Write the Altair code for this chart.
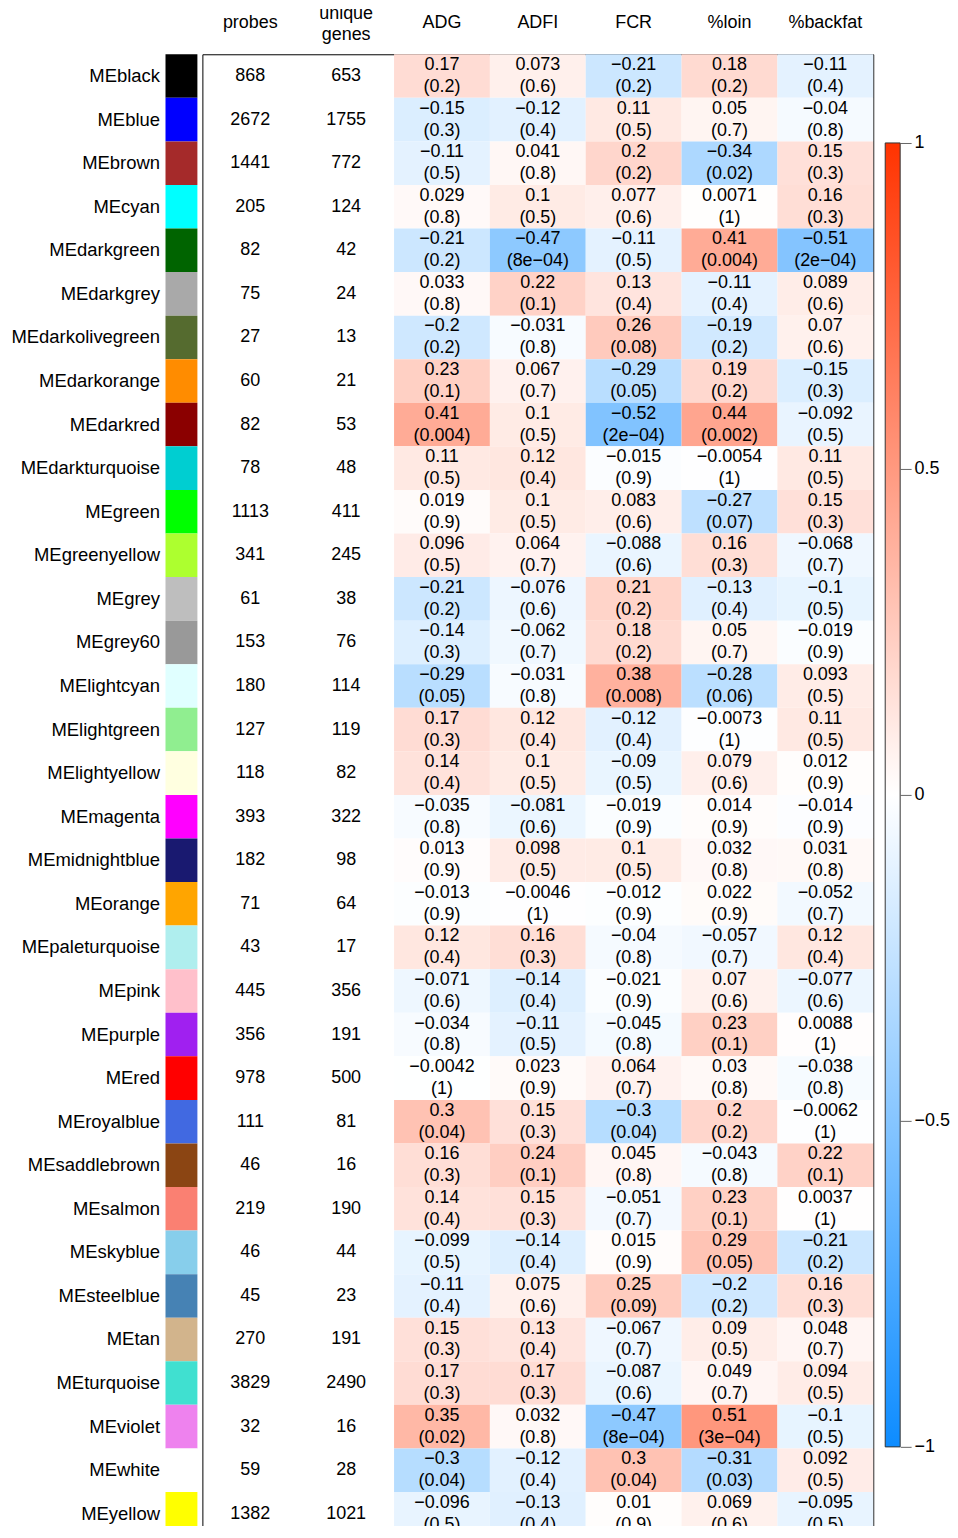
import altair as alt
import pandas as pd

modules = ["MEblack", "MEblue", "MEbrown", "MEcyan", "MEdarkgreen", "MEdarkgrey",
           "MEdarkolivegreen", "MEdarkorange", "MEdarkred", "MEdarkturquoise", "MEgreen",
           "MEgreenyellow", "MEgrey", "MEgrey60", "MElightcyan", "MElightgreen",
           "MElightyellow", "MEmagenta", "MEmidnightblue", "MEorange", "MEpaleturquoise",
           "MEpink", "MEpurple", "MEred", "MEroyalblue", "MEsaddlebrown", "MEsalmon",
           "MEskyblue", "MEsteelblue", "MEtan", "MEturquoise", "MEviolet", "MEwhite", "MEyellow"]

swatch_colors = ["#000000", "#0000FF", "#A52A2A", "#00FFFF", "#006400", "#A9A9A9",
                 "#556B2F", "#FF8C00", "#8B0000", "#00CED1", "#00FF00",
                 "#ADFF2F", "#BEBEBE", "#999999", "#E0FFFF", "#90EE90",
                 "#FFFFE0", "#FF00FF", "#191970", "#FFA500", "#AFEEEE",
                 "#FFC0CB", "#A020F0", "#FF0000", "#4169E1", "#8B4513", "#FA8072",
                 "#87CEEB", "#4682B4", "#D2B48C", "#40E0D0", "#EE82EE", "#FFFFFF", "#FFFF00"]

probes = [868, 2672, 1441, 205, 82, 75, 27, 60, 82, 78, 1113, 341, 61, 153, 180, 127,
          118, 393, 182, 71, 43, 445, 356, 978, 111, 46, 219, 46, 45, 270, 3829, 32, 59, 1382]
genes = [653, 1755, 772, 124, 42, 24, 13, 21, 53, 48, 411, 245, 38, 76, 114, 119,
         82, 322, 98, 64, 17, 356, 191, 500, 81, 16, 190, 44, 23, 191, 2490, 16, 28, 1021]

traits = ["ADG", "ADFI", "FCR", "%loin", "%backfat"]

adg_r = [0.17, -0.15, -0.11, 0.029, -0.21, 0.033, -0.2, 0.23, 0.41, 0.11, 0.019, 0.096,
         -0.21, -0.14, -0.29, 0.17, 0.14, -0.035, 0.013, -0.013, 0.12, -0.071, -0.034,
         -0.0042, 0.3, 0.16, 0.14, -0.099, -0.11, 0.15, 0.17, 0.35, -0.3, -0.096]
adg_p = ["0.2", "0.3", "0.5", "0.8", "0.2", "0.8", "0.2", "0.1", "0.004", "0.5", "0.9", "0.5",
         "0.2", "0.3", "0.05", "0.3", "0.4", "0.8", "0.9", "0.9", "0.4", "0.6", "0.8",
         "1", "0.04", "0.3", "0.4", "0.5", "0.4", "0.3", "0.3", "0.02", "0.04", "0.5"]

adfi_r = [0.073, -0.12, 0.041, 0.1, -0.47, 0.22, -0.031, 0.067, 0.1, 0.12, 0.1, 0.064,
          -0.076, -0.062, -0.031, 0.12, 0.1, -0.081, 0.098, -0.0046, 0.16, -0.14, -0.11,
          0.023, 0.15, 0.24, 0.15, -0.14, 0.075, 0.13, 0.17, 0.032, -0.12, -0.13]
adfi_p = ["0.6", "0.4", "0.8", "0.5", "8e-04", "0.1", "0.8", "0.7", "0.5", "0.4", "0.5", "0.7",
          "0.6", "0.7", "0.8", "0.4", "0.5", "0.6", "0.5", "1", "0.3", "0.4", "0.5",
          "0.9", "0.3", "0.1", "0.3", "0.4", "0.6", "0.4", "0.3", "0.8", "0.4", "0.4"]

fcr_r = [-0.21, 0.11, 0.2, 0.077, -0.11, 0.13, 0.26, -0.29, -0.52, -0.015, 0.083, -0.088,
         0.21, 0.18, 0.38, -0.12, -0.09, -0.019, 0.1, -0.012, -0.04, -0.021, -0.045,
         0.064, -0.3, 0.045, -0.051, 0.015, 0.25, -0.067, -0.087, -0.47, 0.3, 0.01]
fcr_p = ["0.2", "0.5", "0.2", "0.6", "0.5", "0.4", "0.08", "0.05", "2e-04", "0.9", "0.6", "0.6",
         "0.2", "0.2", "0.008", "0.4", "0.5", "0.9", "0.5", "0.9", "0.8", "0.9", "0.8",
         "0.7", "0.04", "0.8", "0.7", "0.9", "0.09", "0.7", "0.6", "8e-04", "0.04", "0.9"]

loin_r = [0.18, 0.05, -0.34, 0.0071, 0.41, -0.11, -0.19, 0.19, 0.44, -0.0054, -0.27, 0.16,
          -0.13, 0.05, -0.28, -0.0073, 0.079, 0.014, 0.032, 0.022, -0.057, 0.07, 0.23,
          0.03, 0.2, -0.043, 0.23, 0.29, -0.2, 0.09, 0.049, 0.51, -0.31, 0.069]
loin_p = ["0.2", "0.7", "0.02", "1", "0.004", "0.4", "0.2", "0.2", "0.002", "1", "0.07", "0.3",
          "0.4", "0.7", "0.06", "1", "0.6", "0.9", "0.8", "0.9", "0.7", "0.6", "0.1",
          "0.8", "0.2", "0.8", "0.1", "0.05", "0.2", "0.5", "0.7", "3e-04", "0.03", "0.6"]

backfat_r = [-0.11, -0.04, 0.15, 0.16, -0.51, 0.089, 0.07, -0.15, -0.092, 0.11, 0.15, -0.068,
             -0.1, -0.019, 0.093, 0.11, 0.012, -0.014, 0.031, -0.052, 0.12, -0.077, 0.0088,
             -0.038, -0.0062, 0.22, 0.0037, -0.21, 0.16, 0.048, 0.094, -0.1, 0.092, -0.095]
backfat_p = ["0.4", "0.8", "0.3", "0.3", "2e-04", "0.6", "0.6", "0.3", "0.5", "0.5", "0.3", "0.7",
             "0.5", "0.9", "0.5", "0.5", "0.9", "0.9", "0.8", "0.7", "0.4", "0.6", "1",
             "0.8", "1", "0.1", "1", "0.2", "0.3", "0.7", "0.5", "0.5", "0.5", "0.5"]

legend_ticks = [-1, -0.5, 0, 0.5, 1]

cols_order = ["probes", "unique genes"] + traits


def mstr(v):
    return str(v).replace("-", "\u2212")


trait_r = [adg_r, adfi_r, fcr_r, loin_r, backfat_r]
trait_p = [adg_p, adfi_p, fcr_p, loin_p, backfat_p]

cell_rows = []
count_rows = []
for i, m in enumerate(modules):
    count_rows.append({"module": m, "col": "probes", "label": str(probes[i])})
    count_rows.append({"module": m, "col": "unique genes", "label": str(genes[i])})
    for t, rr, pp in zip(traits, trait_r, trait_p):
        cell_rows.append({"module": m, "col": t, "r": rr[i],
                          "rlab": mstr(rr[i]), "plab": "(" + mstr(pp[i]) + ")"})

cells = pd.DataFrame(cell_rows)
counts = pd.DataFrame(count_rows)
sw = pd.DataFrame({"module": modules, "color": swatch_colors, "k": ["s"] * len(modules)})

H = 1486
FONT = 18
LINE = 11

yscale = alt.Scale(domain=modules, paddingInner=0, paddingOuter=0)
xenc = alt.X("col:N", sort=cols_order,
             scale=alt.Scale(domain=cols_order, paddingInner=0, paddingOuter=0),
             axis=alt.Axis(orient="top", title=None, labelAngle=0, ticks=False, tickSize=0,
                           domain=False, labelPadding=32,
                           labelBaseline={"condition": {"test": "datum.value == 'unique genes'",
                                                        "value": "bottom"},
                                          "value": "middle"},
                           labelExpr="datum.value == 'unique genes' ? ['unique', 'genes'] : datum.value",
                           labelLineHeight=21, labelFontSize=FONT, labelColor="black"))
yenc = alt.Y("module:N", sort=modules, scale=yscale, axis=None)

heat = alt.Chart(cells).mark_rect().encode(
    x=xenc, y=yenc,
    color=alt.Color("r:Q", scale=alt.Scale(domain=[-1, 0, 1],
                                           range=["#0D8CFF", "#FFFFFF", "#FF3300"],
                                           interpolate="rgb"), legend=None)
)
txt_r = alt.Chart(cells).mark_text(fontSize=FONT, baseline="middle", dy=-LINE,
                                   color="black").encode(x=xenc, y=yenc, text="rlab:N")
txt_p = alt.Chart(cells).mark_text(fontSize=FONT, baseline="middle", dy=LINE,
                                   color="black").encode(x=xenc, y=yenc, text="plab:N")
txt_c = alt.Chart(counts).mark_text(fontSize=FONT, baseline="middle",
                                    color="black").encode(x=xenc, y=yenc, text="label:N")
main = alt.layer(heat, txt_c, txt_r, txt_p).properties(
    width=673, height=H, view=alt.ViewBackground(stroke="black", strokeWidth=1))

swatch = alt.Chart(sw).mark_rect().encode(
    x=alt.X("k:N", axis=None, scale=alt.Scale(paddingInner=0, paddingOuter=0)),
    y=alt.Y("module:N", sort=modules, scale=yscale,
            axis=alt.Axis(title=None, ticks=False, domain=False, labelFontSize=18.5,
                          labelPadding=6, labelColor="black", labelLimit=0)),
    fill=alt.Fill("color:N", scale=None)
).properties(width=32, height=H)

grad = alt.Gradient(gradient="linear",
                    stops=[alt.GradientStop(color="#0D8CFF", offset=0),
                           alt.GradientStop(color="#FFFFFF", offset=0.5),
                           alt.GradientStop(color="#FF3300", offset=1)],
                    x1=0, x2=0, y1=1, y2=0)
bar_df = pd.DataFrame({"lo": [legend_ticks[0]], "hi": [legend_ticks[-1]], "k": ["c"]})
legend = alt.Chart(bar_df).mark_rect(fill=grad, stroke="#333333", strokeWidth=1).encode(
    x=alt.X("k:N", axis=None, scale=alt.Scale(paddingInner=0, paddingOuter=0)),
    y=alt.Y("lo:Q", scale=alt.Scale(domain=[-1.136, 1.136], nice=False, zero=False),
            axis=alt.Axis(orient="right", values=legend_ticks, format="~g", tickSize=11,
                          tickColor="#666666", domain=False, grid=False,
                          labelFontSize=FONT, labelPadding=3, title=None,
                          labelColor="black")),
    y2="hi:Q"
).properties(width=15, height=H)

chart = alt.hconcat(
    alt.hconcat(swatch, main, spacing=4),
    legend, spacing=10
).properties(
    padding={"left": 2, "top": -7, "right": 0, "bottom": -13}
).configure(font="Liberation Sans").configure_view(strokeWidth=0)

chart.save("out.html", embed_options={"renderer": "svg", "actions": False})
